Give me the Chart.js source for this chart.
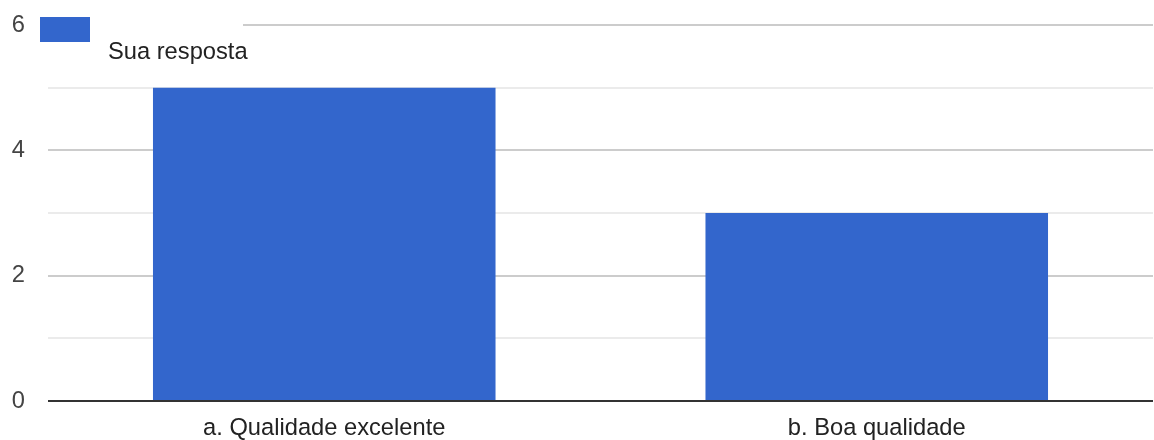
<!DOCTYPE html>
<html>
<head>
<meta charset="utf-8">
<script src="https://cdn.jsdelivr.net/npm/chart.js@4/dist/chart.umd.min.js"></script>
<style>
  body { margin: 0; background: #fff; }
  #wrap { width: 1154px; height: 440px; }
</style>
</head>
<body>
<div id="wrap"><canvas id="chart" width="1154" height="440"></canvas></div>
<script>
const categories = ['a. Qualidade excelente', 'b. Boa qualidade']
const seriesLabel = 'Sua resposta'
const seriesValues = [5, 3]
const yTicks = [0, 2, 4, 6]

const FONT = '"Liberation Sans", Arial, sans-serif'

// legend drawn by hand in the top-left corner, over the top gridline
const cornerLegend = {
  id: 'cornerLegend',
  afterDraw(chart) {
    const ctx = chart.ctx
    const ds = chart.data.datasets[0]
    ctx.save()
    ctx.fillStyle = '#fff'
    ctx.fillRect(90, 20, 153, 10)
    ctx.fillStyle = ds.backgroundColor
    ctx.fillRect(40, 17, 50, 25)
    ctx.fillStyle = '#222'
    ctx.font = '23.7px ' + FONT
    ctx.textBaseline = 'middle'
    ctx.fillText(ds.label, 108, 52)
    ctx.restore()
  }
}

new Chart(document.getElementById('chart'), {
  type: 'bar',
  data: {
    labels: categories,
    datasets: [{
      label: seriesLabel,
      data: seriesValues,
      backgroundColor: '#3366cc',
      barPercentage: 0.62,
      categoryPercentage: 1
    }]
  },
  options: {
    responsive: false,
    animation: false,
    layout: { padding: { top: 25, right: 1, left: 0, bottom: 0 } },
    plugins: { legend: { display: false }, tooltip: { enabled: false } },
    scales: {
      x: {
        grid: { display: false },
        border: { display: false },
        ticks: {
          color: '#222',
          padding: 5,
          font: { family: FONT, size: 23.7 }
        },
        afterFit(scale) { scale.height = 39; scale.paddingLeft = 0; scale.paddingRight = 0 }
      },
      y: {
        min: 0,
        max: 6,
        border: { display: false },
        grid: {
          drawTicks: false,
          lineWidth: 2,
          color: (c) => {
            const v = c.tick.value
            if (v === 0) return '#333'
            return yTicks.includes(v) ? '#cccccc' : '#ebebeb'
          }
        },
        ticks: {
          stepSize: 1,
          padding: 23,
          color: '#444',
          font: { family: FONT, size: 23.7 },
          callback: (v) => yTicks.includes(v) ? v : ''
        },
        afterFit(scale) { scale.width = 48; scale.paddingTop = 0; scale.paddingBottom = 0 }
      }
    }
  },
  plugins: [cornerLegend]
})
</script>
</body>
</html>
